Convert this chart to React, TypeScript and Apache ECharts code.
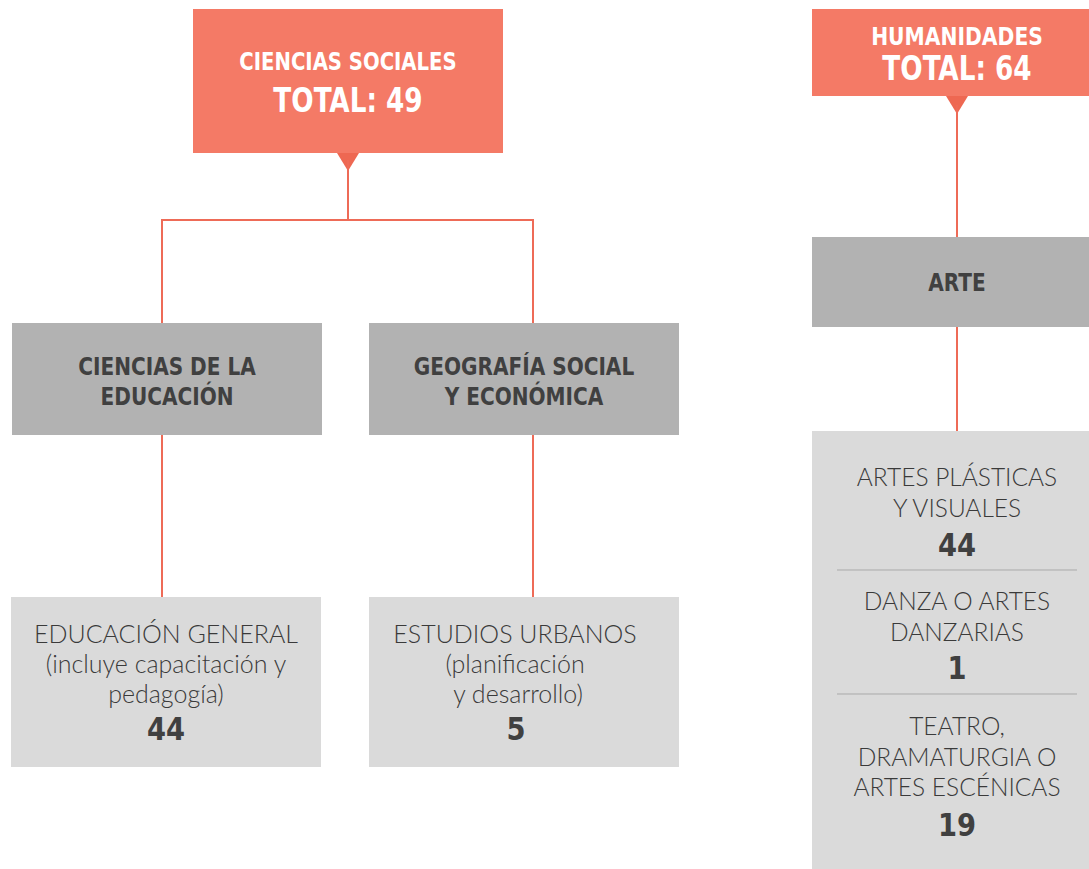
import React, { useEffect, useRef } from "react";
import * as echarts from "echarts";

// ---- data ----
const parentNames = ["CIENCIAS SOCIALES", "HUMANIDADES"];
const parentTotals = [49, 64];
const fieldNames = [["CIENCIAS DE LA\nEDUCACIÓN", "GEOGRAFÍA SOCIAL\nY ECONÓMICA"], ["ARTE"]];
const leafNamesSocial = [
  "EDUCACIÓN GENERAL\n(incluye capacitación y\npedagogía)",
  "ESTUDIOS URBANOS\n(planificación\n y desarrollo)",
];
const leafValuesSocial = [44, 5];
const leafNamesArte = ["ARTES PLÁSTICAS\nY VISUALES", "DANZA O ARTES\nDANZARIAS", "TEATRO,\nDRAMATURGIA O\nARTES ESCÉNICAS"];
const leafValuesArte = [44, 1, 19];

// ---- style ----
const CORAL = "#F47A66";
const CORAL_DARK = "#EE6852";
const LINE = "#EE6B57";
const GRAY = "#B2B2B2";
const LIGHT = "#DADADA";
const DARK = "#404040";
const SEP = "#A9A9A9";
const BOLD_FONT = "'DejaVu Sans Condensed', 'Noto Sans', sans-serif";
const LIGHT_FONT = "Lato, 'Noto Sans', sans-serif";

function vline(x: number, y1: number, y2: number) {
  return { type: "line", shape: { x1: x, y1, x2: x, y2 }, style: { stroke: LINE, lineWidth: 2 } };
}
function hline(x1: number, x2: number, y: number) {
  return { type: "line", shape: { x1, y1: y, x2, y2: y }, style: { stroke: LINE, lineWidth: 2 } };
}
function rect(x: number, y: number, w: number, h: number, fill: string) {
  return { type: "rect", shape: { x, y, width: w, height: h }, style: { fill } };
}
function tri(cx: number, y: number) {
  return {
    type: "polygon",
    shape: { points: [[cx - 11, y], [cx + 11, y], [cx, y + 18]] },
    style: { fill: CORAL_DARK },
  };
}
function text(
  x: number,
  y: number,
  s: string,
  size: number,
  weight: string | number,
  color: string,
  opts: { lh?: number; sx?: number; family?: string } = {}
) {
  const family = opts.family || BOLD_FONT;
  return {
    type: "text",
    x,
    y,
    scaleX: opts.sx || 1,
    style: {
      text: s,
      fill: color,
      fontSize: size,
      fontWeight: weight,
      fontFamily: family,
      textAlign: "center",
      textVerticalAlign: "middle",
      lineHeight: opts.lh || size * 1.2,
    },
  };
}

export default function App() {
  const ref = useRef<HTMLDivElement>(null);
  useEffect(() => {
    document.body.style.margin = "0";
    const chart = echarts.init(ref.current!, null, { renderer: "svg" });
    const els: any[] = [];

    // Left tree: Ciencias sociales
    const lcx = 348;
    els.push(rect(193, 9, 310, 144, CORAL));
    els.push(tri(lcx, 153));
    els.push(vline(lcx, 160, 220));
    els.push(hline(162, 533, 220));
    const fieldX = [12, 369];
    const lineX = [162, 533];
    const fieldCx = [167, 524];
    const leafCx = [166, 515];
    fieldNames[0].forEach((n, i) => {
      els.push(vline(lineX[i], 219, 323));
      els.push(rect(fieldX[i], 323, 310, 112, GRAY));
      els.push(vline(lineX[i], 435, 597));
      els.push(rect(fieldX[i] - (i === 0 ? 1 : 0), 597, 310, 170, LIGHT));
      els.push(text(fieldCx[i], 381, n, 24, "bold", DARK, { lh: 30, sx: 0.93 }));
      els.push(text(leafCx[i], 663, leafNamesSocial[i], 25, 300, "#3a3a3a", { lh: 30, family: LIGHT_FONT }));
      els.push(text(leafCx[i] + (i === 0 ? 0 : 1), 729, String(leafValuesSocial[i]), 32, "bold", DARK, { sx: 0.95 }));
    });
    els.push(text(lcx, 62, parentNames[0], 24, "bold", "#fff", { sx: 0.91 }));
    els.push(text(lcx, 100, "TOTAL: " + parentTotals[0], 34, "bold", "#fff", { sx: 0.86 }));

    // Right tree: Humanidades
    const rcx = 957;
    els.push(rect(812, 9, 277, 87, CORAL));
    els.push(tri(rcx, 96));
    els.push(vline(rcx, 105, 237));
    els.push(rect(812, 237, 277, 90, GRAY));
    els.push(text(rcx, 282, fieldNames[1][0], 24, "bold", DARK, { sx: 0.93 }));
    els.push(vline(rcx, 327, 431));
    els.push(rect(812, 431, 277, 438, LIGHT));
    els.push(text(rcx, 36, parentNames[1], 24, "bold", "#fff", { sx: 0.94 }));
    els.push(text(rcx, 68, "TOTAL: " + parentTotals[1], 34, "bold", "#fff", { sx: 0.86 }));

    const nameY = [492, 616, 756];
    const valY = [545, 668, 825];
    leafNamesArte.forEach((n, i) => {
      els.push(text(rcx, nameY[i], n, 24.5, 300, "#3a3a3a", { lh: 30.5, family: LIGHT_FONT }));
      els.push(text(rcx, valY[i], String(leafValuesArte[i]), 32, "bold", DARK, { sx: 0.95 }));
    });
    [570, 694].forEach((y) => {
      els.push({ type: "line", shape: { x1: 837, y1: y, x2: 1077, y2: y }, style: { stroke: SEP, lineWidth: 1 } });
    });

    chart.setOption({ animation: false, graphic: { elements: els } });
    return () => chart.dispose();
  }, []);
  return <div ref={ref} style={{ width: 1089, height: 869, background: "#fff" }} />;
}
